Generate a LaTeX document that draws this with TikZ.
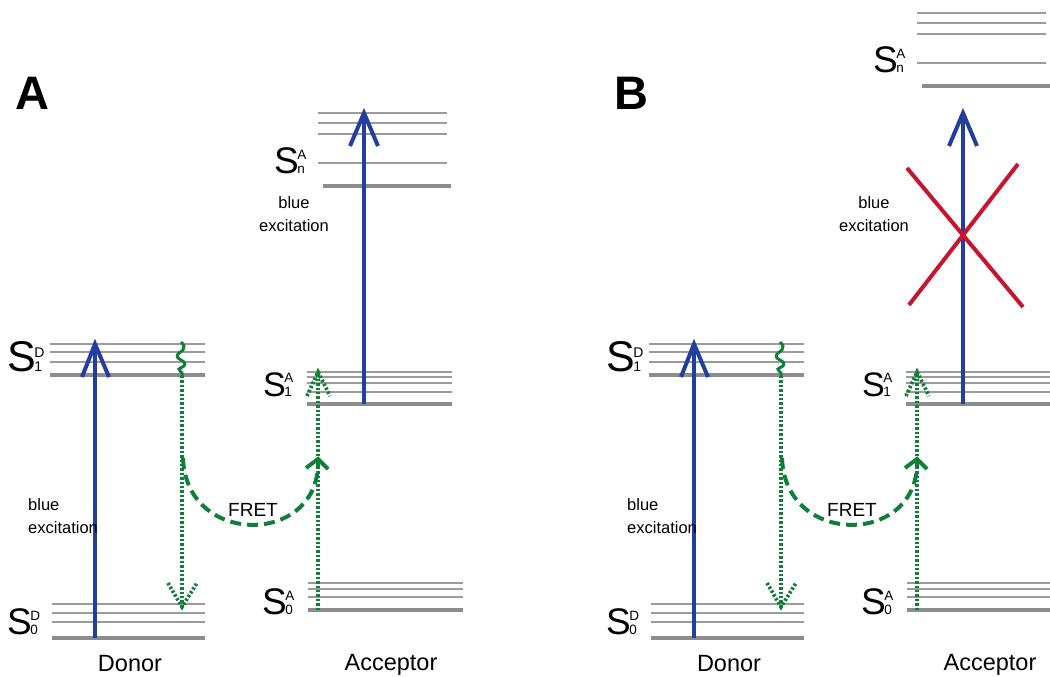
\documentclass[tikz,border=0pt]{standalone}
\usepackage{fontspec}
\setmainfont{Liberation Sans}
\usetikzlibrary{decorations.pathmorphing}
\definecolor{exblue}{RGB}{35,62,158}
\definecolor{fgreen}{RGB}{16,128,56}
\definecolor{xred}{RGB}{200,20,45}
\definecolor{lvgray}{RGB}{155,155,155}
\definecolor{lvthick}{RGB}{140,140,140}
\newcommand\stateS[4]{{\fontsize{#1}{#1}\selectfont S}\kern-1.5pt{\fontsize{#2}{14}\selectfont\begin{tabular}[b]{@{}l@{}}#3\\#4\end{tabular}}}
\begin{document}
\begin{tikzpicture}[x=1pt,y=-1pt,
  thinlev/.style={draw=lvgray, line width=1.8pt},
  thicklev/.style={draw=lvthick, line width=4.5pt},
  exc/.style={draw=exblue, line width=4pt},
  dotg/.style={draw=fgreen, line width=3.8pt, dash pattern=on 2.4pt off 2pt},
  fret/.style={draw=fgreen, line width=4pt, dash pattern=on 11pt off 6pt},
  wav/.style={draw=fgreen, line width=3pt},
  fhead/.style={draw=fgreen, line width=4pt},
  cross/.style={draw=xred, line width=4pt},
  lbl/.style={inner sep=0pt, font=\fontsize{16.5}{23.5}\selectfont},
  slab/.style={inner sep=0pt, anchor=base west},
  mol/.style={inner sep=0pt, anchor=base, font=\fontsize{23.5}{24}\selectfont},
  panel/.style={inner sep=0pt, anchor=base west, font=\fontsize{47}{47}\selectfont\bfseries}
]
\useasboundingbox (0,0) rectangle (1050,677);
\foreach \ox/\p/\d/\bx in {0/A/0/294, 599/B/-100/275}{
\begin{scope}[xshift=\ox]
  % donor levels
  \foreach \yy in {344,352,362} \draw[thinlev] (50,\yy) -- (205,\yy);
  \draw[thicklev] (50,375) -- (205,375);
  \foreach \yy in {604,613,622} \draw[thinlev] (52,\yy) -- (205,\yy);
  \draw[thicklev] (52,638) -- (205,638);
  % acceptor levels
  \foreach \yy in {372,377,383,392} \draw[thinlev] (307,\yy) -- (452,\yy);
  \draw[thicklev] (307,404) -- (452,404);
  \foreach \yy in {583,589,597} \draw[thinlev] (308,\yy) -- (463,\yy);
  \draw[thicklev] (308,610) -- (463,610);
  \foreach \yy in {113,123,134,163} \draw[thinlev] (318,\yy+\d) -- (447,\yy+\d);
  \draw[thicklev] (323,186+\d) -- (451,186+\d);
  % coordinates
  \coordinate (dg\p) at (95,638);
  \coordinate (dt\p) at (95,344);
  \coordinate (ag\p) at (364,404);
  \coordinate (at\p) at (364,113);
  \coordinate (wt\p) at (181,342);
  \coordinate (wb\p) at (182,376);
  \coordinate (ft\p) at (182,607);
  \coordinate (ab\p) at (318,610);
  \coordinate (aa\p) at (318,372);
  \coordinate (fs\p) at (183,458);
  \coordinate (fe\p) at (318,459);
  % blue excitation arrows
  \draw[exc] (dg\p) -- (dt\p);
  \draw[exc] (82,377) -- (dt\p) -- (109,377);
  \draw[exc] (ag\p) -- (at\p);
  \draw[exc] (350,146) -- (at\p) -- (378,146);
  % relaxation squiggle and donor decay
  \draw[wav] plot[smooth, tension=0.7] coordinates {(wt\p) (184,346) (183,350) (178,354) (178,358) (184,362) (184,366) (179,369) (182,373) (wb\p)};
  \draw[dotg] (wb\p) -- (ft\p);
  \draw[dotg] (168,583) -- (ft\p) -- (197,583);
  % acceptor emission/excitation
  \draw[dotg] (ab\p) -- (aa\p);
  \draw[dotg] (307,396) -- (aa\p) -- (330,396);
  % FRET
  \draw[fret] (fs\p) .. controls (186,548) and (322,546) .. (fe\p);
  \draw[fhead] (306,468) -- (fe\p) -- (328,469);
  \node[inner sep=0pt, font=\fontsize{19}{19}\selectfont] (fretl\p) at (253,510) {FRET};
  % labels
  \node[slab] (s1d\p) at (7,371) {\stateS{43}{14}{D}{1}};
  \node[slab] (s0d\p) at (7,634) {\stateS{37}{13.5}{D}{0}};
  \node[slab] (s1a\p) at (263,396) {\stateS{34}{13.5}{A}{1}};
  \node[slab] (s0a\p) at (262,614) {\stateS{37}{13.5}{A}{0}};
  \node[slab] (sna\p) at (274,173+\d) {\stateS{37}{13.5}{A}{n}};
  \node[lbl, align=left, anchor=north west] (bel\p) at (28,498) {blue\\excitation};
  \node[lbl, align=center, anchor=north] (beu\p) at (\bx,196) {blue\\excitation};
  \node[mol] (don\p) at (130,671) {Donor};
  \node[mol] (acc\p) at (391,670) {Acceptor};
  \node[panel] (pl\p) at (15,110) {\p};
\end{scope}}
% forbidden transition in B
\coordinate (xa) at (907,168);
\coordinate (xb) at (1023,307);
\coordinate (xc) at (1018,164);
\coordinate (xd) at (909,305);
\draw[cross] (xa) -- (xb);
\draw[cross] (xc) -- (xd);
\end{tikzpicture}
\end{document}
